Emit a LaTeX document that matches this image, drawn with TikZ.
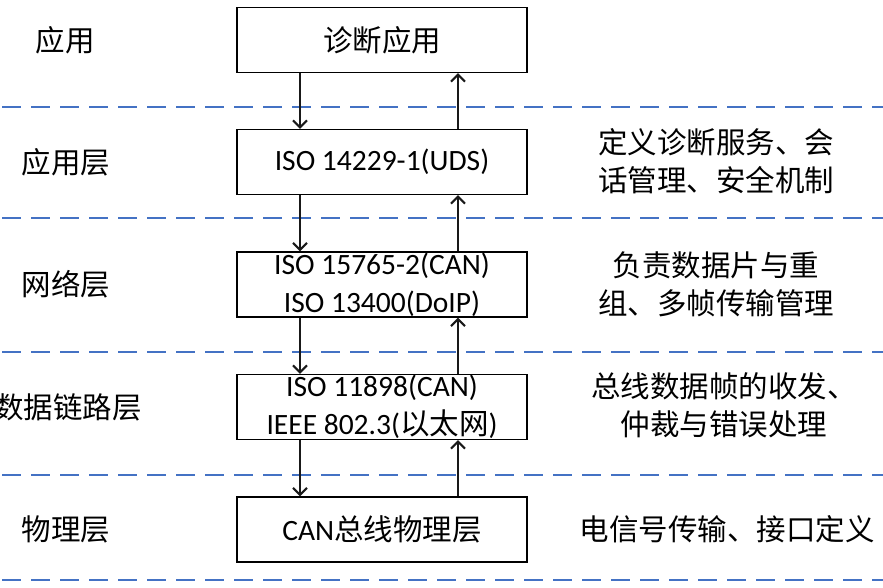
\documentclass[tikz,border=0pt]{standalone}
\usepackage{fontspec}
\setmainfont{Carlito}
\newfontfamily\zhfont{Noto Sans CJK SC}
\newcommand{\zhtxt}[1]{{\zhfont #1}}
\usetikzlibrary{arrows.meta}
\definecolor{sepblue}{HTML}{4472C4}

\begin{document}
\begin{tikzpicture}[
    x=1pt, y=-1pt,
    >={Straight Barb[length=7pt,width=14pt]},
    font=\fontsize{29.5}{38}\selectfont,
    layerbox/.style={
        draw=black, line width=1.3pt, rectangle, inner sep=0pt,
        minimum width=290pt, minimum height=65pt, align=center
    },
    layername/.style={align=center, inner sep=0pt},
    layerdesc/.style={align=center, inner sep=0pt},
    separator/.style={sepblue, line width=2.5pt, dash pattern=on 19pt off 10pt},
    flow/.style={->, line width=2.1pt, black!90}
]
\useasboundingbox (0,0) rectangle (883,587);

% separators between layers
\foreach \y in {107,218,352,475,580}
    \draw[separator] (2,\y) -- (883,\y);

% protocol stack
\node[layerbox] (diag) at (382,40)    {\zhtxt{诊断应用}};
\node[layerbox] (uds)  at (382,162)   {ISO 14229-1(UDS)};
\node[layerbox] (net)  at (382,284.5) {ISO 15765-2(CAN)\\ISO 13400(DoIP)};
\node[layerbox] (dll)  at (382,407)   {ISO 11898(CAN)\\IEEE 802.3(\zhtxt{以太网})};
\node[layerbox] (phy)  at (382,529.5) {CAN\zhtxt{总线物理层}};

% layer names
\node[layername] (nameapp) at (65,40)    {\zhtxt{应用}};
\node[layername] (nameuds) at (66,162)   {\zhtxt{应用层}};
\node[layername] (namenet) at (66,284.5) {\zhtxt{网络层}};
\node[layername] (namedll) at (68,407)   {\zhtxt{数据链路层}};
\node[layername] (namephy) at (66,529.5) {\zhtxt{物理层}};

% descriptions
\node[layerdesc] (descuds) at (716,161) {\zhtxt{定义诊断服务、会}\\\zhtxt{话管理、安全机制}};
\node[layerdesc] (descnet) at (716,284) {\zhtxt{负责数据片与重}\\\zhtxt{组、多帧传输管理}};
\node[layerdesc] (descdll) at (724,405) {\zhtxt{总线数据帧的收发、}\\\zhtxt{仲裁与错误处理}};
\node[layerdesc] (descphy) at (727,529) {\zhtxt{电信号传输、接口定义}};

% request down, response up
\foreach \upper/\lower in {diag/uds, uds/net, net/dll, dll/phy} {
    \draw[flow] ([xshift=-82pt]\upper.south) -- ([xshift=-82pt]\lower.north);
    \draw[flow] ([xshift=76pt]\lower.north) -- ([xshift=76pt]\upper.south);
}
\end{tikzpicture}
\end{document}
